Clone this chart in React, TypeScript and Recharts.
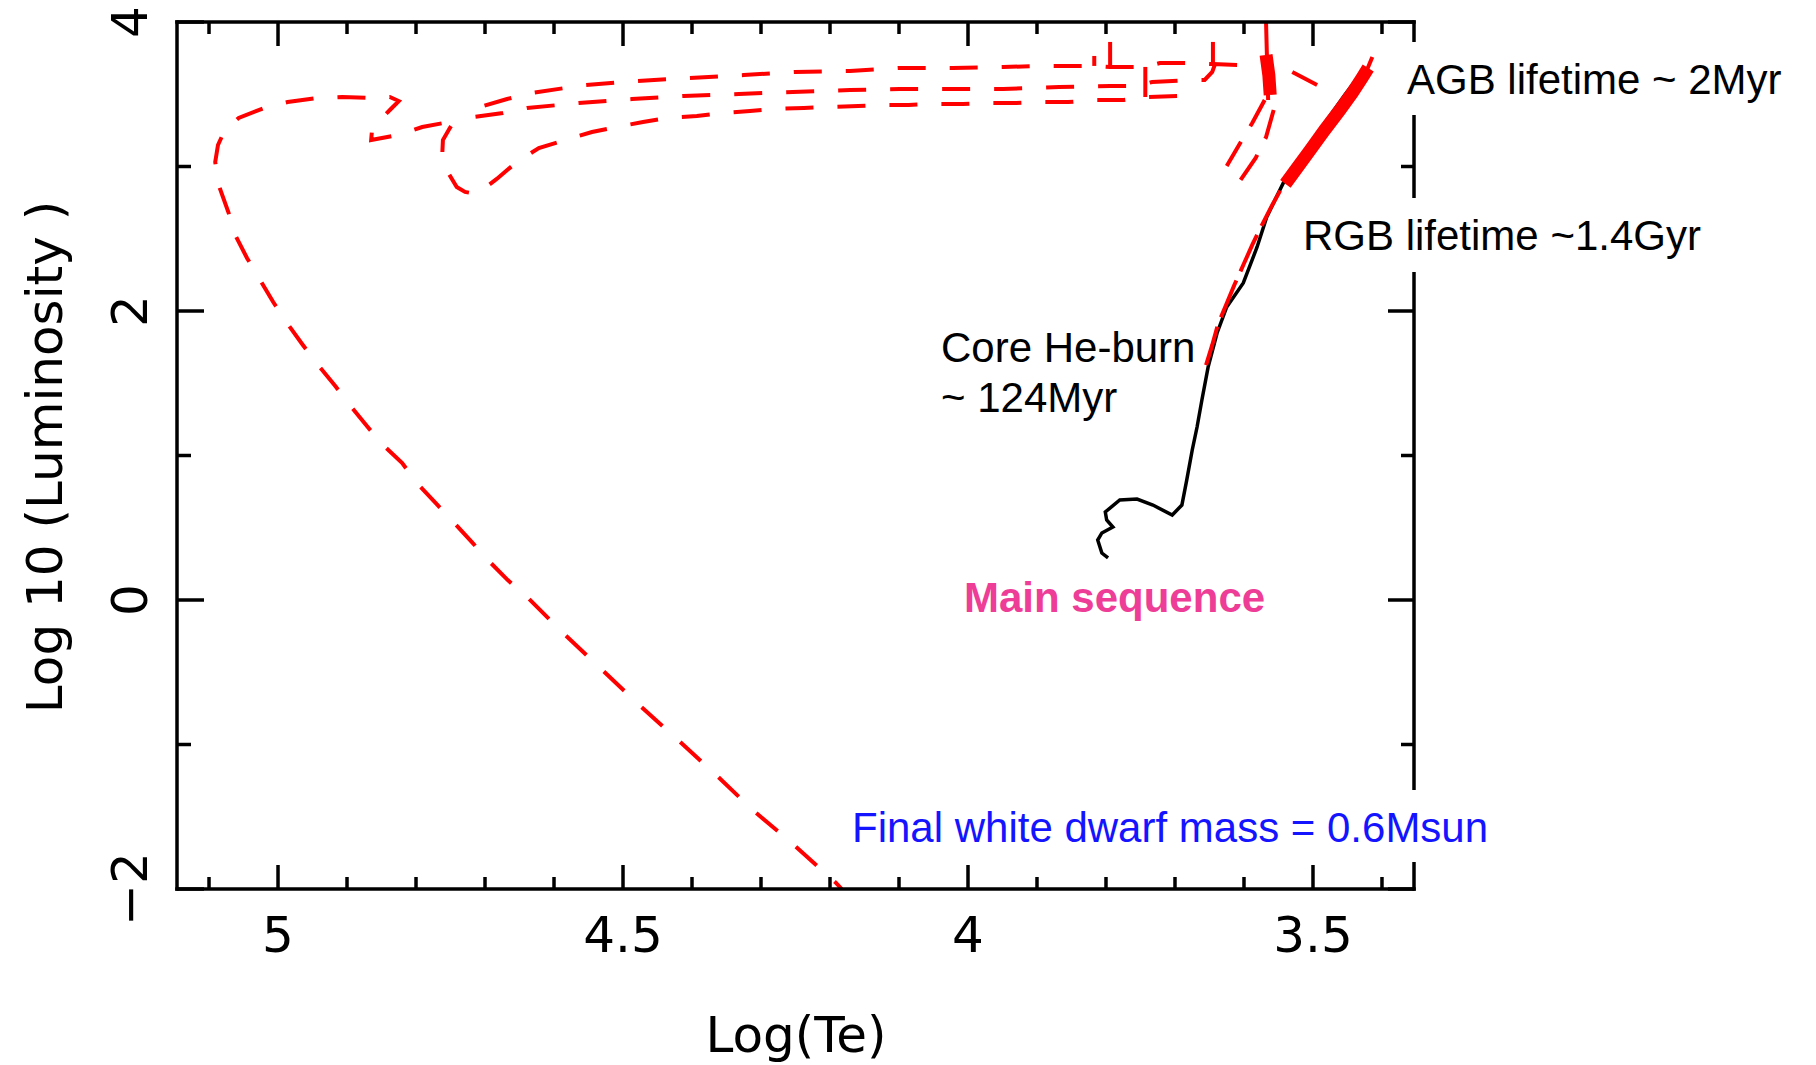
import React from 'react';
import { LineChart, Line, XAxis, YAxis } from 'recharts';

// Track points are [log Te, log L]
const msRgbTrack = [
  [3.797, 0.291], [3.806, 0.325], [3.812, 0.415], [3.806, 0.464], [3.79, 0.505],
  [3.799, 0.554], [3.801, 0.609], [3.78, 0.692], [3.755, 0.699], [3.732, 0.657],
  [3.704, 0.588], [3.69, 0.657], [3.683, 0.83], [3.675, 1.038], [3.668, 1.197],
  [3.661, 1.384], [3.652, 1.612], [3.639, 1.848], [3.625, 2.028], [3.601, 2.194],
  [3.581, 2.443], [3.567, 2.651], [3.543, 2.886], [3.523, 3.024], [3.49, 3.253],
  [3.454, 3.495], [3.425, 3.682],
];

const agbRise = [
  [3.655, 1.626], [3.646, 1.765], [3.638, 1.903], [3.626, 2.042], [3.614, 2.18],
  [3.601, 2.318], [3.588, 2.457], [3.574, 2.595], [3.559, 2.734], [3.543, 2.872],
];

const tpAgbBand = [
  [3.54, 2.88], [3.523, 2.99], [3.504, 3.114], [3.483, 3.253],
  [3.461, 3.391], [3.443, 3.509], [3.429, 3.613], [3.42, 3.682],
];
const tpAgbTip = [[3.423, 3.654], [3.414, 3.758]];

const flashSpike = [[3.568, 3.993], [3.567, 3.806], [3.565, 3.46]];
const flashCore = [[3.568, 3.772], [3.564, 3.633], [3.562, 3.495]];
const flashDescentA = [[3.57, 3.46], [3.588, 3.301], [3.603, 3.183], [3.625, 3.004]];
const flashDescentB = [[3.557, 3.391], [3.568, 3.204], [3.583, 3.059], [3.606, 2.9]];
const agbExit = [[3.53, 3.654], [3.494, 3.564]];

// upper crossing out to the blue, turning back along the middle path
const loopUpperPair = [
  [3.61, 3.702], [3.645, 3.709], [3.683, 3.716], [3.722, 3.716], [3.743, 3.689],
  [3.794, 3.689], [3.817, 3.696], [3.886, 3.696], [3.949, 3.689], [4.022, 3.682],
  [4.099, 3.682], [4.171, 3.661], [4.251, 3.654], [4.325, 3.633], [4.404, 3.613],
  [4.48, 3.592], [4.555, 3.564], [4.632, 3.509], [4.668, 3.467], [4.707, 3.412],
  [4.722, 3.377], [4.716, 3.343], [4.674, 3.37], [4.639, 3.405], [4.564, 3.439],
  [4.487, 3.467], [4.412, 3.488], [4.332, 3.502], [4.254, 3.516], [4.171, 3.529],
  [4.099, 3.536], [4.025, 3.536], [3.949, 3.536], [3.868, 3.55], [3.794, 3.557],
  [3.755, 3.557], [3.733, 3.585], [3.672, 3.599], [3.657, 3.599], [3.646, 3.654],
  [3.642, 3.709],
];

const pulseSpikeA = [[3.817, 3.696], [3.817, 3.765]];
const pulseSpikeB = [[3.794, 3.689], [3.794, 3.862]];
const pulseSpikeC = [[3.645, 3.709], [3.645, 3.862]];
const loopLink = [[3.743, 3.689], [3.743, 3.481]];

// last crossing, the blue loop and the white dwarf cooling track
const finalTrack = [
  [3.697, 3.488], [3.741, 3.481], [3.774, 3.46], [3.816, 3.46], [3.855, 3.446],
  [3.894, 3.446], [3.93, 3.439], [3.971, 3.439], [4.007, 3.433], [4.052, 3.433],
  [4.086, 3.426], [4.126, 3.426], [4.159, 3.419], [4.201, 3.412], [4.238, 3.405],
  [4.28, 3.398], [4.316, 3.384], [4.358, 3.37], [4.393, 3.349], [4.435, 3.336],
  [4.471, 3.308], [4.51, 3.273], [4.545, 3.239], [4.584, 3.183], [4.622, 3.128],
  [4.654, 3.031], [4.683, 2.914], [4.712, 2.81], [4.729, 2.824], [4.741, 2.858],
  [4.754, 2.962], [4.762, 3.08], [4.761, 3.183], [4.751, 3.266], [4.742, 3.329],
  [4.752, 3.308], [4.791, 3.273], [4.826, 3.218], [4.865, 3.183], [4.864, 3.239],
  [4.852, 3.322], [4.835, 3.405], [4.825, 3.453], [4.838, 3.481], [4.865, 3.474],
  [4.907, 3.481], [4.943, 3.474], [4.986, 3.446], [5.02, 3.405], [5.057, 3.336],
  [5.077, 3.253], [5.087, 3.149], [5.091, 3.031], [5.086, 2.872], [5.072, 2.685],
  [5.062, 2.526], [5.045, 2.367], [5.026, 2.215], [5.007, 2.062], [4.987, 1.917],
  [4.964, 1.765], [4.942, 1.626], [4.917, 1.481], [4.896, 1.349], [4.87, 1.197],
  [4.848, 1.073], [4.82, 0.948], [4.799, 0.81], [4.77, 0.664], [4.746, 0.54],
  [4.719, 0.401], [4.696, 0.277], [4.667, 0.138], [4.639, 0.021], [4.587, -0.228],
  [4.533, -0.471], [4.478, -0.72], [4.422, -0.962], [4.365, -1.211], [4.312, -1.453],
  [4.252, -1.696], [4.191, -1.959], [4.183, -2.0],
];

const tempTicks = [5.1, 5.0, 4.9, 4.8, 4.7, 4.6, 4.5, 4.4, 4.3, 4.2, 4.1, 4.0, 3.9, 3.8, 3.7, 3.6, 3.5, 3.4];
const tempLabels = [5, 4.5, 4, 3.5];
const lumTicks = [-2, -1, 0, 1, 2, 3, 4];
const lumLabels = [-2, 0, 2, 4];

const PLOT_FONT = "'DejaVu Sans', sans-serif";
const NOTE_FONT = "'Liberation Sans', Arial, sans-serif";
const RED = '#ff0000';
const frameLine = { stroke: '#000', strokeWidth: 3.5, strokeLinecap: 'square' as const };

const toPts = (rows: number[][]) => rows.map(([t, l]) => ({ t, l }));
const hasLabel = (v: number, labels: number[]) => labels.some((m) => Math.abs(m - v) < 1e-6);
const lumText = (v: number) => (v < 0 ? `\u2212${Math.abs(v)}` : String(v));

const BottomTick = ({ x, y, payload }: any) => {
  const major = hasLabel(payload.value, tempLabels);
  return (
    <g>
      <line x1={x} x2={x} y1={y} y2={y - (major ? 24 : 12)} stroke="#000" strokeWidth={3.5} />
      {major && (
        <text x={x} y={y + 63} textAnchor="middle" fontSize={50} fontFamily={PLOT_FONT} fill="#000">
          {String(payload.value)}
        </text>
      )}
    </g>
  );
};

const TopTick = ({ x, y, payload }: any) => {
  const major = hasLabel(payload.value, tempLabels);
  return <line x1={x} x2={x} y1={y} y2={y + (major ? 24 : 12)} stroke="#000" strokeWidth={3.5} />;
};

const LeftTick = ({ x, y, payload }: any) => {
  const major = hasLabel(payload.value, lumLabels);
  const bx = x - 30;
  return (
    <g>
      <line x1={x} x2={x + (major ? 27 : 14)} y1={y} y2={y} stroke="#000" strokeWidth={3.5} />
      {major && (
        <text
          x={bx}
          y={y}
          transform={`rotate(-90 ${bx} ${y})`}
          textAnchor="middle"
          fontSize={50}
          fontFamily={PLOT_FONT}
          fill="#000"
        >
          {lumText(payload.value)}
        </text>
      )}
    </g>
  );
};

const RightTick = ({ x, y, payload }: any) => {
  const major = hasLabel(payload.value, lumLabels);
  return <line x1={x} x2={x - (major ? 26 : 13)} y1={y} y2={y} stroke="#000" strokeWidth={3.5} />;
};

const track = (key: string, rows: number[][], color: string, width: number, dash?: string) => (
  <Line
    key={key}
    data={toPts(rows)}
    dataKey="l"
    xAxisId="bottom"
    yAxisId="left"
    type="linear"
    stroke={color}
    strokeWidth={width}
    strokeDasharray={dash}
    dot={false}
    activeDot={false}
    isAnimationActive={false}
  />
);

export default function App() {
  return (
    <div style={{ position: 'absolute', left: 0, top: 0, width: 1816, height: 1065, background: '#fff' }}>
      <LineChart width={1816} height={1065} margin={{ top: 12, right: 392, bottom: 96, left: 77 }}>
        <XAxis
          xAxisId="bottom"
          type="number"
          dataKey="t"
          domain={[3.3536, 5.1464]}
          reversed
          allowDataOverflow
          ticks={tempTicks}
          interval={0}
          tickSize={0}
          tickMargin={0}
          tickLine={false}
          axisLine={frameLine}
          height={80}
          tick={(p: any) => <BottomTick {...p} />}
        />
        <XAxis
          xAxisId="top"
          orientation="top"
          type="number"
          dataKey="t"
          domain={[3.3536, 5.1464]}
          reversed
          allowDataOverflow
          ticks={tempTicks}
          interval={0}
          tickSize={0}
          tickMargin={0}
          tickLine={false}
          axisLine={frameLine}
          height={10}
          tick={(p: any) => <TopTick {...p} />}
        />
        <YAxis
          yAxisId="left"
          type="number"
          domain={[-2, 4]}
          allowDataOverflow
          ticks={lumTicks}
          interval={0}
          tickSize={0}
          tickMargin={0}
          tickLine={false}
          axisLine={frameLine}
          width={100}
          tick={(p: any) => <LeftTick {...p} />}
        />
        <YAxis
          yAxisId="right"
          orientation="right"
          type="number"
          domain={[-2, 4]}
          allowDataOverflow
          ticks={lumTicks}
          interval={0}
          tickSize={0}
          tickMargin={0}
          tickLine={false}
          axisLine={frameLine}
          width={10}
          tick={(p: any) => <RightTick {...p} />}
        />
        {track('ms-rgb', msRgbTrack, '#000', 3.5)}
        {track('agb-rise', agbRise, RED, 4, '40 10')}
        {track('tp-band', tpAgbBand, RED, 13)}
        {track('tp-tip', tpAgbTip, RED, 4)}
        {track('flash-spike', flashSpike, RED, 4)}
        {track('flash-core', flashCore, RED, 13)}
        {track('flash-a', flashDescentA, RED, 4, '30 18')}
        {track('flash-b', flashDescentB, RED, 4, '30 18')}
        {track('agb-exit', agbExit, RED, 4)}
        {track('loop-upper', loopUpperPair, RED, 4, '28 24')}
        {track('spike-a', pulseSpikeA, RED, 4)}
        {track('spike-b', pulseSpikeB, RED, 4)}
        {track('spike-c', pulseSpikeC, RED, 4)}
        {track('loop-link', loopLink, RED, 4)}
        {track('final', finalTrack, RED, 4, '28 24')}
      </LineChart>

      <svg
        width={1816}
        height={1065}
        style={{ position: 'absolute', left: 0, top: 0, pointerEvents: 'none' }}
      >
        <rect x={1398} y={42} width={418} height={73} fill="#fff" />
        <rect x={1296} y={198} width={520} height={74} fill="#fff" />
        <rect x={845} y={790} width={660} height={72} fill="#fff" />

        <text x={796} y={1052} textAnchor="middle" fontSize={50} fontFamily={PLOT_FONT} fill="#000">
          Log(Te)
        </text>
        <text
          x={62}
          y={457}
          transform="rotate(-90 62 457)"
          textAnchor="middle"
          fontSize={50}
          fontFamily={PLOT_FONT}
          fill="#000"
        >
          Log 10 (Luminosity )
        </text>

        <g fontFamily={NOTE_FONT} fontSize={42}>
          <text x={1407} y={94} fill="#000">AGB lifetime ~ 2Myr</text>
          <text x={1303} y={250} fill="#000">RGB lifetime ~1.4Gyr</text>
          <text x={941} y={362} fill="#000">Core He-burn</text>
          <text x={941} y={412} fill="#000">~ 124Myr</text>
          <text x={964} y={612} fill="#ee3d96" fontWeight="bold">Main sequence</text>
          <text x={852} y={842} fill="#1414ff">Final white dwarf mass = 0.6Msun</text>
        </g>
      </svg>
    </div>
  );
}
